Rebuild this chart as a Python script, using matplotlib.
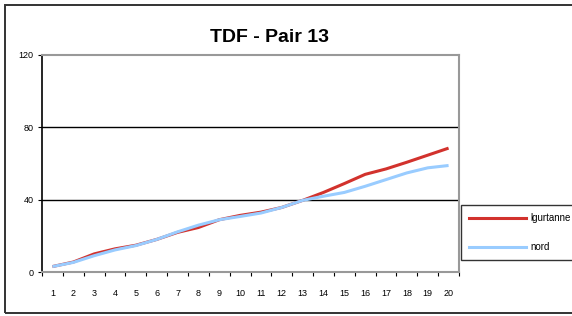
import numpy as np
import matplotlib
matplotlib.use("Agg")
import matplotlib.pyplot as plt
from matplotlib.patches import Rectangle
from matplotlib.lines import Line2D

# chart data
pairs = list(range(1, 21))
lgurtanne = [3, 5.5, 10, 12.8, 14.8, 18, 21.9, 24.6, 28.9, 31.3,
             33.1, 35.7, 39.6, 44, 48.9, 54, 57, 60.7, 64.6, 68.5]
nord = [3, 5.3, 9, 12.2, 14.6, 18, 22.2, 25.9, 28.9, 30.7,
        32.6, 35.7, 39.6, 41.9, 44, 47.4, 51.1, 54.8, 57.6, 58.9]
yticks = [0, 40, 80, 120]

plt.rcParams['font.family'] = ['Liberation Sans', 'DejaVu Sans']

W, H = 572, 316
fig = plt.figure(figsize=(W / 100, H / 100), dpi=100)

# excel style chart area border
fig.patches.append(Rectangle((5 / W, 1 - 313 / H), 600 / W, 308 / H,
                             transform=fig.transFigure, fill=False,
                             edgecolor='#333333', linewidth=1.4))

ax = fig.add_axes([42 / W, 1 - 272 / H, 417 / W, 217 / H])
ax.plot(pairs, lgurtanne, color='#d2322d', linewidth=2.2, solid_capstyle='butt')
ax.plot(pairs, nord, color='#99ccff', linewidth=2.2, solid_capstyle='butt')

ax.set_xlim(0.5, 20.5)
ax.set_ylim(0, 120)
for v in yticks[1:3]:
    ax.axhline(v, color='black', linewidth=1.0, zorder=0)

ax.set_yticks(yticks)
ax.set_yticklabels([str(v) for v in yticks], fontsize=6.5)
ax.tick_params(axis='y', length=3, width=0.8, pad=3)

# ticks on category boundaries, labels in the middle
ax.set_xticks(np.arange(0.5, 21, 1))
ax.set_xticklabels([])
ax.set_xticks(pairs, minor=True)
ax.set_xticklabels([str(p) for p in pairs], minor=True, fontsize=6.5)
ax.tick_params(axis='x', which='major', length=3, width=0.8)
ax.tick_params(axis='x', which='minor', length=0, pad=12)

ax.spines['left'].set_color('black')
ax.spines['left'].set_linewidth(1.2)
for s in ['top', 'right', 'bottom']:
    ax.spines[s].set_color('#999999')
    ax.spines[s].set_linewidth(1.5)

fig.text(270 / W, 1 - 37 / H, 'TDF - Pair 13', ha='center', va='center',
         fontsize=14, fontweight='bold')

handles = [Line2D([], [], color='#d2322d', linewidth=2.2),
           Line2D([], [], color='#99ccff', linewidth=2.2)]
leg = fig.legend(handles, ['lgurtanne', 'nord'], loc='upper left',
                 bbox_to_anchor=(461 / W, 1 - 208 / H, 150 / W, 0.01),
                 mode='expand', fontsize=7,
                 frameon=True, fancybox=False, handlelength=5.8,
                 handletextpad=0.5, borderpad=0.85, labelspacing=1.95,
                 borderaxespad=0)
leg.get_frame().set_edgecolor('black')
leg.get_frame().set_linewidth(1.0)

fig.savefig('out.png', dpi=100)
